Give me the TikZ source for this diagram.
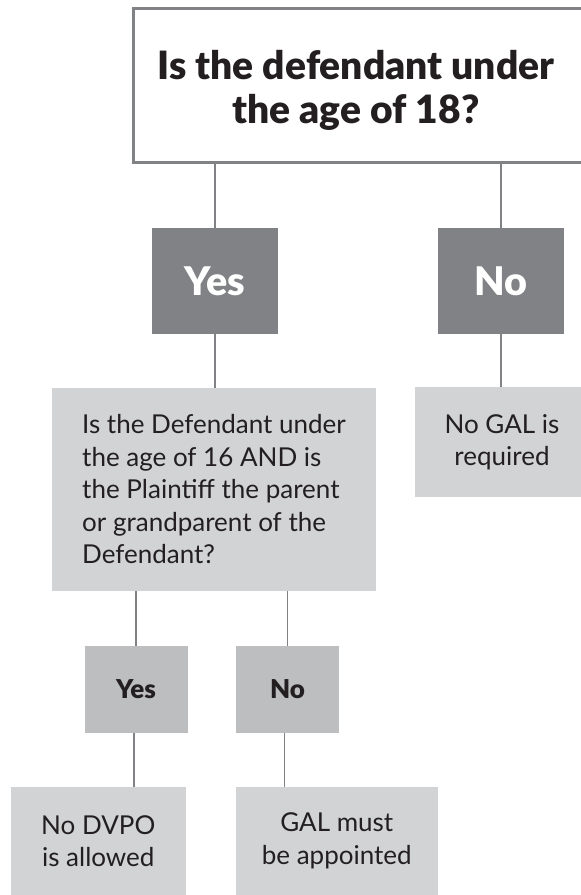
\documentclass[tikz,border=0pt]{standalone}
\usepackage{fontspec}
\setmainfont{Lato}
\newfontfamily\heavyfont{Lato Black}
\definecolor{linegray}{HTML}{808285}
\definecolor{darkbox}{HTML}{818285}
\definecolor{lightbox}{HTML}{D1D3D4}
\definecolor{midbox}{HTML}{BCBEC0}
\definecolor{ink}{HTML}{231F20}
\tikzset{
  box/.style={rectangle, inner sep=0pt, outer sep=0pt, text=ink},
  topbox/.style={box, draw=linegray, line width=3pt, fill=white},
  titletext/.style={box, align=center, font=\fontsize{39pt}{43.3pt}\heavyfont},
  bigbox/.style={box, fill=darkbox, minimum width=126pt, minimum height=106pt, text=white,
    font=\fontsize{39.5pt}{48pt}\heavyfont, text height=28.5pt, text depth=0pt},
  smallbox/.style={box, fill=midbox, minimum width=103pt, minimum height=86.7pt,
    font=\fontsize{26pt}{30pt}\heavyfont, text height=18.7pt, text depth=0pt},
  lightbox/.style={box, fill=lightbox, font=\fontsize{26pt}{32.5pt}\selectfont},
  conn/.style={draw=linegray, line width=1.6pt}
}
\begin{document}
\begin{tikzpicture}[x=1pt,y=-1pt]
\useasboundingbox (0,0) rectangle (581,895);
\clip (0,0) rectangle (581,895);
% top question
\node[topbox, minimum width=460pt, minimum height=153.8pt] (top) at (363,85.6) {};
\node[titletext] (title) at (356,90.5) {Is the defendant under\\the age of 18?};
% big answers
\node[bigbox] (bigyes) at (215,281) {Yes};
\node[bigbox] (bigno) at (501,281) {No};
% second question
\node[lightbox, minimum width=323.4pt, minimum height=203pt, align=left] (q2) at (214,489.5)
  {Is the Defendant under\\the age of 16 AND is\\the Plaintiff the parent\\or grandparent of the\\Defendant?};
\node[lightbox, minimum width=174pt, minimum height=109.5pt, align=center] (nogal) at (502,442.2)
  {No GAL is\\required};
% small answers
\node[smallbox] (syes) at (136,689.3) {Yes};
\node[smallbox] (sno) at (287.5,689.3) {No};
% outcomes
\node[lightbox, minimum width=174.7pt, minimum height=108.6pt, align=center] (dvpo) at (98.3,841)
  {No DVPO\\is allowed};
\node[lightbox, minimum width=201.7pt, minimum height=108.6pt, align=center] (gal) at (336.8,841)
  {GAL must\\be appointed};
% connectors
\draw[conn] (bigyes.north) -- (bigyes.north |- top.south);
\draw[conn] (bigno.north) -- (bigno.north |- top.south);
\draw[conn] (bigyes.south) -- (bigyes.south |- q2.north);
\draw[conn] (bigno.south) -- (bigno.south |- nogal.north);
\draw[conn] (syes.north) -- (syes.north |- q2.south);
\draw[conn] (sno.north) -- (sno.north |- q2.south);
\coordinate (ya) at ([xshift=-2.3pt]syes.south);
\coordinate (na) at ([xshift=-3.2pt]sno.south);
\draw[conn] (ya) -- (ya |- dvpo.north);
\draw[conn] (na) -- (na |- gal.north);
\end{tikzpicture}
\end{document}
